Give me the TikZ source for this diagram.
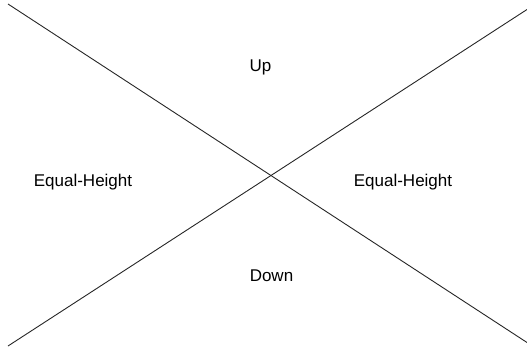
\documentclass[tikz,border=0pt]{standalone}
\usepackage{fontspec}
\setmainfont{Liberation Sans}
\usetikzlibrary{positioning}
\tikzset{
  zone/.style={font=\fontsize{17}{20}\selectfont, inner sep=0pt, anchor=base},
  split/.style={line width=0.9pt, black!85}
}
\begin{document}
\begin{tikzpicture}[x=1pt, y=-1pt]
  % page frame: 527 x 349
  \useasboundingbox (0,0) rectangle (527,349);
  % ends of the two crossing lines
  \coordinate (tl) at (8,4);
  \coordinate (br) at (527,342.5);
  \coordinate (bl) at (8,346);
  \coordinate (tr) at (527,9.5);
  \draw[split] (tl) -- (br);
  \draw[split] (bl) -- (tr);
  % labels of the four regions
  \node[zone] (up) at (260.5,71) {Up};
  \node[zone] (left) at (83,186.5) {Equal-Height};
  \node[zone] (right) at (403,186) {Equal-Height};
  \node[zone] (down) at (271.5,281) {Down};
\end{tikzpicture}
\end{document}
